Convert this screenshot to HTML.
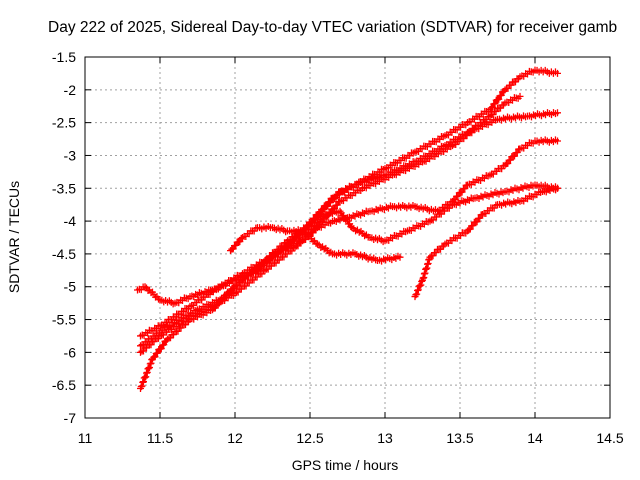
<!DOCTYPE html>
<html><head><meta charset="utf-8"><style>
body{margin:0;background:#fff}
svg{display:block;font-family:"Liberation Sans",sans-serif}
</style></head><body>
<svg width="640" height="480">
<rect width="640" height="480" fill="#fff"/>
<text x="48" y="32" font-size="15.5" fill="#000">Day 222 of 2025, Sidereal Day-to-day VTEC variation (SDTVAR) for receiver gamb</text>
<g id="grid"></g>
<g id="axes"></g>
<g id="marks"></g>
<rect x="85" y="57" width="525" height="361" fill="none" stroke="#000" stroke-width="1"/>
<text x="345" y="470" font-size="14" text-anchor="middle">GPS time / hours</text>
<text transform="translate(19,237) rotate(-90)" font-size="14" text-anchor="middle">SDTVAR / TECUs</text>
</svg>
<script>
const xTicks=[11,11.5,12,12.5,13,13.5,14,14.5];
const xTickLabels=["11","11.5","12","12.5","13","13.5","14","14.5"];
const yTicks=[-1.5,-2,-2.5,-3,-3.5,-4,-4.5,-5,-5.5,-6,-6.5,-7];
const yTickLabels=["-1.5","-2","-2.5","-3","-3.5","-4","-4.5","-5","-5.5","-6","-6.5","-7"];
const trackA=[[11.37,-6.55],[11.45,-6.1],[11.55,-5.8],[11.7,-5.5],[11.85,-5.35],[12.0,-5.0],[12.15,-4.7],[12.3,-4.45],[12.45,-4.15],[12.55,-3.9],[12.65,-3.65],[12.8,-3.45],[13.0,-3.2],[13.2,-2.95],[13.4,-2.7],[13.55,-2.5],[13.7,-2.3],[13.8,-2.0],[13.9,-1.8],[14.0,-1.7],[14.15,-1.75]];
const trackB=[[11.37,-5.75],[11.5,-5.6],[11.7,-5.3],[11.9,-5.0],[12.05,-4.8],[12.2,-4.6],[12.35,-4.3],[12.5,-4.05],[12.6,-3.8],[12.7,-3.55],[12.85,-3.4],[13.0,-3.3],[13.2,-3.1],[13.4,-2.85],[13.55,-2.65],[13.7,-2.4],[13.8,-2.2],[13.9,-2.1]];
const trackC=[[11.37,-6.0],[11.5,-5.75],[11.7,-5.45],[11.85,-5.3],[12.0,-5.1],[12.2,-4.75],[12.4,-4.4],[12.5,-4.2],[12.6,-3.95],[12.7,-3.7],[12.85,-3.5],[13.05,-3.3],[13.25,-3.1],[13.45,-2.85],[13.6,-2.6],[13.75,-2.45],[13.95,-2.4],[14.15,-2.35]];
const trackD=[[11.35,-5.05],[11.4,-5.0],[11.5,-5.2],[11.6,-5.25],[11.7,-5.15],[11.85,-5.05],[12.0,-4.9],[12.15,-4.75],[12.3,-4.45],[12.45,-4.3],[12.55,-4.1],[12.65,-4.0],[12.75,-3.95],[12.9,-3.85],[13.05,-3.78],[13.2,-3.78],[13.35,-3.85],[13.45,-3.7],[13.55,-3.45],[13.7,-3.3],[13.8,-3.15],[13.9,-2.9],[14.0,-2.78],[14.15,-2.78]];
const trackE=[[11.97,-4.45],[12.05,-4.25],[12.15,-4.1],[12.25,-4.1],[12.35,-4.15],[12.45,-4.15],[12.55,-4.35],[12.65,-4.5],[12.8,-4.5],[12.95,-4.6],[13.1,-4.55]];
const trackF=[[13.2,-5.15],[13.25,-4.9],[13.3,-4.55],[13.4,-4.35],[13.55,-4.15],[13.65,-3.9],[13.75,-3.75],[13.9,-3.7],[14.05,-3.55],[14.15,-3.5]];
const trackG=[[11.37,-5.9],[11.55,-5.6],[11.75,-5.35],[11.9,-5.2],[12.05,-4.9],[12.25,-4.55],[12.45,-4.2],[12.6,-3.9],[12.7,-3.85],[12.78,-4.1],[12.9,-4.25],[13.0,-4.3],[13.15,-4.15],[13.3,-4.0],[13.45,-3.75],[13.6,-3.65],[13.8,-3.55],[14.0,-3.45],[14.15,-3.5]];
const tracks=[trackA,trackB,trackC,trackD,trackE,trackF,trackG];

const NS="http://www.w3.org/2000/svg";
const X0=85,X1=610,Y0=57,Y1=418;
function xs(h){return X0+(h-11)/(14.5-11)*(X1-X0);}
function ys(v){return Y0+(-1.5-v)/(5.5)*(Y1-Y0);}
function mk(t,a,p){const e=document.createElementNS(NS,t);for(const k in a)e.setAttribute(k,a[k]);p.appendChild(e);return e;}
const grid=document.getElementById('grid'),axes=document.getElementById('axes'),marks=document.getElementById('marks');
xTicks.forEach((t,i)=>{const x=xs(t);
 if(i>0&&i<xTicks.length-1){const g=mk('line',{x1:x,x2:x,y1:Y0,y2:Y1,stroke:'#a0a0a0','stroke-dasharray':'2,3'},grid);
 
 }
 mk('line',{x1:x,x2:x,y1:Y1,y2:Y1-6,stroke:'#000'},axes);
 mk('line',{x1:x,x2:x,y1:Y0,y2:Y0+6,stroke:'#000'},axes);
 const l=mk('text',{x:x,y:443,'font-size':14,'text-anchor':'middle'},axes);l.textContent=xTickLabels[i];
 
 
});
yTicks.forEach((t,i)=>{const y=ys(t);
 if(i>0&&i<yTicks.length-1){const g=mk('line',{x1:X0,x2:X1,y1:y,y2:y,stroke:'#a0a0a0','stroke-dasharray':'2,3'},grid);
 
 }
 mk('line',{x1:X0,x2:X0+6,y1:y,y2:y,stroke:'#000'},axes);
 mk('line',{x1:X1,x2:X1-6,y1:y,y2:y,stroke:'#000'},axes);
 const l=mk('text',{x:76,y:y+5,'font-size':14,'text-anchor':'end'},axes);l.textContent=yTickLabels[i];
 
 
});
function plus(x,y){return `M${x-3.5},${y}h7M${x},${y-3.5}v7`;}
tracks.forEach((tr,ti)=>{let d='';
 for(let i=0;i<tr.length;i++){
  const x=xs(tr[i][0]),y=ys(tr[i][1]);d+=plus(x,y);
  if(i<tr.length-1){const x2=xs(tr[i+1][0]),y2=ys(tr[i+1][1]);
   const n=Math.max(1,Math.round(Math.hypot(x2-x,y2-y)/2));
   for(let k=1;k<n;k++){const f=k/n;const j=((k*7)%5-2)*0.6;d+=plus(x+(x2-x)*f,y+(y2-y)*f+j);}}
 }
 const p=mk('path',{d:d,stroke:'#ff0000','stroke-width':1.3,fill:'none'},marks);
 
 
});
</script>
</body></html>
